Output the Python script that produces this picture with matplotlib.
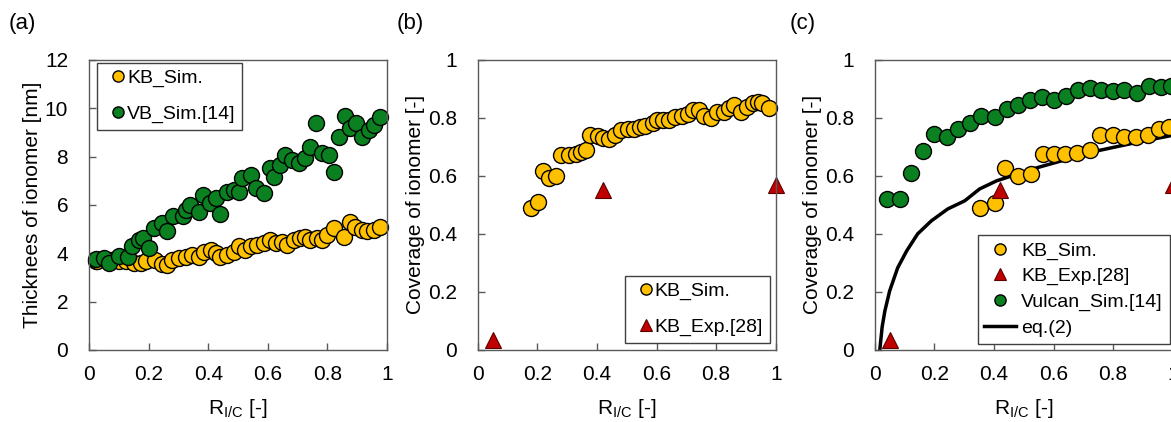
import matplotlib.pyplot as plt
import numpy as np

plt.rcParams['font.family'] = ['Liberation Sans', 'DejaVu Sans']
plt.rcParams['mathtext.fontset'] = 'custom'
plt.rcParams['mathtext.rm'] = 'Liberation Sans'

# colours
orange = '#FFC000'
green = '#0A8020'
red = '#C00000'
spine_col = '#595959'

# (a) thickness of ionomer
a_kb_x = [0.022, 0.028, 0.056, 0.078, 0.10, 0.123, 0.151, 0.173, 0.19, 0.223, 0.246, 0.262,
          0.279, 0.302, 0.324, 0.346, 0.369, 0.385, 0.408, 0.425, 0.441, 0.464, 0.486, 0.503,
          0.525, 0.542, 0.564, 0.587, 0.609, 0.626, 0.648, 0.665, 0.687, 0.709, 0.726, 0.743,
          0.765, 0.782, 0.799, 0.821, 0.855, 0.875, 0.894, 0.916, 0.933, 0.955, 0.978]
a_kb_y = [3.66, 3.66, 3.72, 3.70, 3.66, 3.66, 3.59, 3.61, 3.66, 3.72, 3.56, 3.52,
          3.72, 3.79, 3.86, 3.93, 3.86, 4.07, 4.14, 4.00, 3.86, 3.93, 4.07, 4.28,
          4.14, 4.28, 4.34, 4.41, 4.55, 4.41, 4.48, 4.34, 4.55, 4.62, 4.69, 4.55,
          4.62, 4.55, 4.76, 5.03, 4.69, 5.31, 5.10, 4.97, 4.90, 4.97, 5.10]
a_vb_x = [0.022, 0.05, 0.067, 0.10, 0.13, 0.145, 0.167, 0.18, 0.20, 0.218, 0.246, 0.262,
          0.283, 0.316, 0.324, 0.34, 0.369, 0.383, 0.406, 0.425, 0.441, 0.464, 0.486, 0.503,
          0.514, 0.542, 0.559, 0.587, 0.607, 0.62, 0.642, 0.659, 0.682, 0.704, 0.726, 0.743,
          0.763, 0.782, 0.804, 0.821, 0.838, 0.86, 0.875, 0.897, 0.916, 0.939, 0.955, 0.978]
a_vb_y = [3.75, 3.79, 3.60, 3.90, 3.83, 4.28, 4.55, 4.62, 4.20, 5.03, 5.27, 4.90,
          5.52, 5.52, 5.79, 6.00, 5.72, 6.41, 6.07, 6.28, 5.63, 6.55, 6.62, 6.55,
          7.10, 7.24, 6.69, 6.48, 7.52, 7.17, 7.66, 8.07, 7.86, 7.72, 7.93, 8.41,
          9.38, 8.14, 8.07, 7.38, 8.83, 9.68, 9.17, 9.38, 8.83, 9.10, 9.31, 9.63]

# (b) coverage of ionomer
b_kb_x = [0.179, 0.201, 0.22, 0.24, 0.263, 0.279, 0.307, 0.33, 0.346, 0.363, 0.378, 0.402,
          0.421, 0.441, 0.461, 0.48, 0.503, 0.525, 0.544, 0.562, 0.587, 0.603, 0.622, 0.642,
          0.663, 0.684, 0.704, 0.723, 0.743, 0.76, 0.782, 0.804, 0.825, 0.844, 0.86, 0.883,
          0.905, 0.922, 0.939, 0.955, 0.978]
b_kb_y = [0.489, 0.509, 0.617, 0.592, 0.60, 0.672, 0.672, 0.676, 0.684, 0.69, 0.741, 0.738,
          0.73, 0.728, 0.741, 0.759, 0.761, 0.761, 0.77, 0.772, 0.782, 0.793, 0.793, 0.793,
          0.802, 0.805, 0.814, 0.828, 0.828, 0.805, 0.799, 0.822, 0.822, 0.833, 0.845, 0.822,
          0.839, 0.851, 0.856, 0.851, 0.833]
exp_x = [0.05, 0.42, 1.0]
exp_y = [0.035, 0.55, 0.57]

# (c) coverage with Vulcan and eq.(2)
c_kb_x = [0.353, 0.404, 0.437, 0.482, 0.523, 0.565, 0.601, 0.64, 0.68, 0.721, 0.755, 0.799,
          0.838, 0.877, 0.916, 0.955, 0.989]
c_kb_y = [0.489, 0.508, 0.626, 0.598, 0.607, 0.676, 0.676, 0.676, 0.68, 0.69, 0.741, 0.741,
          0.733, 0.733, 0.741, 0.761, 0.768]
c_vu_x = [0.041, 0.084, 0.122, 0.162, 0.20, 0.242, 0.281, 0.32, 0.357, 0.404, 0.443, 0.48,
          0.521, 0.56, 0.602, 0.641, 0.682, 0.721, 0.76, 0.799, 0.838, 0.88, 0.92, 0.961, 0.994]
c_vu_y = [0.52, 0.52, 0.611, 0.686, 0.745, 0.733, 0.761, 0.782, 0.807, 0.802, 0.83, 0.845,
          0.862, 0.871, 0.862, 0.876, 0.897, 0.902, 0.897, 0.894, 0.897, 0.885, 0.91, 0.908, 0.91]
eq_x = [0.017, 0.025, 0.034, 0.05, 0.077, 0.107, 0.144, 0.19, 0.245, 0.302, 0.352, 0.409,
        0.544, 0.745, 0.822, 0.9, 1.0]
eq_y = [0.0, 0.08, 0.134, 0.203, 0.283, 0.341, 0.40, 0.445, 0.486, 0.514, 0.555, 0.583,
        0.628, 0.686, 0.703, 0.72, 0.74]

fig = plt.figure(figsize=(11.71, 4.22), dpi=100)
ax1 = fig.add_axes([0.076, 0.171, 0.2545, 0.687])
ax2 = fig.add_axes([0.408, 0.171, 0.2545, 0.687])
ax3 = fig.add_axes([0.747, 0.171, 0.2545, 0.687])

ms = 11.5
circ = dict(marker='o', ls='none', ms=ms, mec='black', mew=1, clip_on=False)
tri = dict(marker='^', ls='none', ms=12, mec='#5a0000', mew=0.8, color=red, clip_on=False)

ax1.plot(a_kb_x, a_kb_y, color=orange, label='KB_Sim.', **circ)
ax1.plot(a_vb_x, a_vb_y, color=green, label='VB_Sim.[14]', **circ)

ax2.plot(b_kb_x, b_kb_y, color=orange, label='KB_Sim.', **circ)
ax2.plot(exp_x, exp_y, label='KB_Exp.[28]', **tri)

ax3.plot(eq_x, eq_y, color='black', lw=2.5, label='eq.(2)', zorder=1)
ax3.plot(c_kb_x, c_kb_y, color=orange, label='KB_Sim.', zorder=3, **circ)
ax3.plot(exp_x, exp_y, label='KB_Exp.[28]', zorder=4, **tri)
ax3.plot(c_vu_x, c_vu_y, color=green, label='Vulcan_Sim.[14]', zorder=3, **circ)

for ax in (ax1, ax2, ax3):
    ax.set_xlim(0, 1)
    ax.set_xticks([0, 0.2, 0.4, 0.6, 0.8, 1.0])
    ax.set_xticklabels(['0', '0.2', '0.4', '0.6', '0.8', '1'])
    ax.tick_params(direction='in', length=5, width=1, color=spine_col, labelsize=15)
    ax.tick_params(axis='x', pad=11)
    ax.tick_params(axis='y', pad=15)
    for s in ax.spines.values():
        s.set_color(spine_col)
        s.set_linewidth(1)
    ax.set_xlabel(r'R$_{\mathrm{I/C}}$ [-]', fontsize=15, labelpad=9)

ax1.set_ylim(0, 12)
ax1.set_yticks(np.arange(0, 13, 2))
ax1.set_ylabel('Thicknees of ionomer [nm]', fontsize=15, labelpad=2)
for ax in (ax2, ax3):
    ax.set_ylim(0, 1)
    ax.set_yticks([0, 0.2, 0.4, 0.6, 0.8, 1.0])
    ax.set_yticklabels(['0', '0.2', '0.4', '0.6', '0.8', '1'])
    ax.set_ylabel('Coverage of ionomer [-]', fontsize=15, labelpad=2)

leg_kw = dict(fontsize=14, fancybox=False, edgecolor='#404040', framealpha=1,
              borderpad=0.35, markerscale=0.7)
h, l = ax1.get_legend_handles_labels()
lg = ax1.legend(h, l, loc='upper left', bbox_to_anchor=(0.027, 0.99),
                handlelength=1.46, handletextpad=-0.27, labelspacing=0.9,
                borderaxespad=0, **leg_kw)
lg.get_frame().set_linewidth(1)

h, l = ax2.get_legend_handles_labels()
lg = ax2.legend(h, l, loc='lower right', bbox_to_anchor=(0.98, 0.025),
                handlelength=1.46, handletextpad=-0.27, labelspacing=0.9,
                borderaxespad=0, **leg_kw)
lg.get_frame().set_linewidth(1)

h, l = ax3.get_legend_handles_labels()
order = [1, 2, 3, 0]
lg = ax3.legend([h[i] for i in order], [l[i] for i in order], loc='lower right',
                bbox_to_anchor=(0.99, 0.02), handlelength=1.6,
                handletextpad=0.3, labelspacing=0.42, borderaxespad=0, **leg_kw)
lg.get_frame().set_linewidth(1)

fig.text(0.007, 0.945, '(a)', fontsize=16, va='center')
fig.text(0.339, 0.945, '(b)', fontsize=16, va='center')
fig.text(0.674, 0.945, '(c)', fontsize=16, va='center')

fig.savefig('out.png', dpi=100)
